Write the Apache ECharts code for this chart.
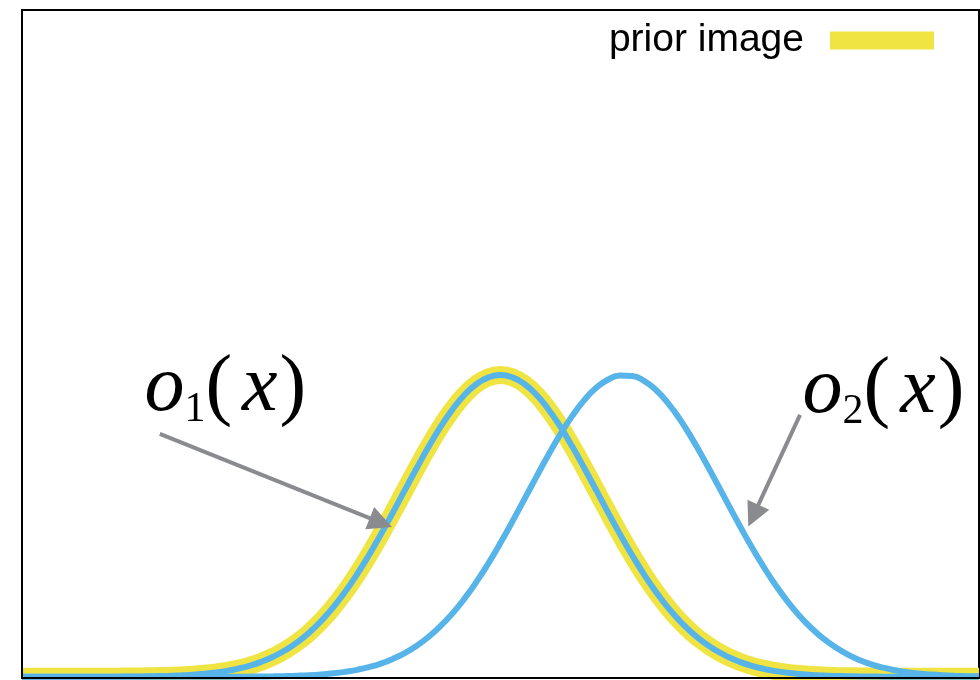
<!DOCTYPE html>
<html>
<head>
<meta charset="utf-8">
<title>prior image</title>
<script src="https://cdn.jsdelivr.net/npm/echarts@6/dist/echarts.min.js"></script>
<style>
  html, body { margin: 0; padding: 0; background: #fff; }
  #chart { width: 980px; height: 680px; }
</style>
</head>
<body>
<div id="chart"></div>
<script>
// Sample positions along the horizontal axis (step 0.125)
const xValues = Array.from({ length: 81 }, (_, i) => i * 0.125);

// o1(x): left bump, one value per sample position
const o1Values = [
  0, 0, 0, 0, 0, 0.0001, 0.0002, 0.0003, 0.0005, 0.0007, 0.0012, 0.0018, 0.0028, 0.0042, 0.0062, 0.0092,
  0.0132, 0.0188, 0.0264, 0.0365, 0.0496, 0.0665, 0.0878, 0.1142, 0.1463, 0.1846, 0.2295, 0.2811, 0.3391, 0.4031, 0.4720, 0.5443,
  0.6184, 0.6921, 0.7632, 0.8288, 0.8868, 0.9347, 0.9704, 0.9925, 1.0000,
  0.9925, 0.9704, 0.9347, 0.8868, 0.8288, 0.7632, 0.6921, 0.6184,
  0.5443, 0.4720, 0.4031, 0.3391, 0.2811, 0.2295, 0.1846, 0.1463, 0.1142, 0.0878, 0.0665, 0.0496, 0.0365, 0.0264, 0.0188, 0.0132,
  0.0092, 0.0062, 0.0042, 0.0028, 0.0018, 0.0012, 0.0007, 0.0005, 0.0003, 0.0002, 0.0001, 0, 0, 0, 0, 0
];

// o2(x): right bump, one value per sample position
const o2Values = [
  0, 0, 0, 0, 0, 0, 0, 0, 0, 0, 0, 0, 0, 0, 0, 0,
  0.0001, 0.0002, 0.0004, 0.0006, 0.0010, 0.0015, 0.0023, 0.0036, 0.0053, 0.0079, 0.0114, 0.0164, 0.0231, 0.0321, 0.0439, 0.0593,
  0.0787, 0.1030, 0.1327, 0.1685, 0.2107, 0.2597, 0.3152, 0.3769, 0.4439, 0.5151, 0.5887, 0.6628, 0.7352, 0.8033, 0.8647, 0.9169,
  0.9577, 0.9854, 0.9988, 0.9973, 0.9810, 0.9505, 0.9073, 0.8531, 0.7902, 0.7210, 0.6481, 0.5738, 0.5006, 0.4301, 0.3641, 0.3036,
  0.2494, 0.2018, 0.1608, 0.1263, 0.0977, 0.0744, 0.0559, 0.0413, 0.0301, 0.0216, 0.0153, 0.0106, 0.0073, 0.0049, 0.0033, 0.0021,
  0.0014
];

// The prior image follows o1(x)
const priorImage = o1Values;

const legendLabels = ['prior image'];

const YELLOW = '#F0E442';
const BLUE = '#56B4E9';
const GREY = '#898b8e';

const pairs = (ys) => xValues.map((x, i) => [x, ys[i]]);

// Math-style label: italic letters, upright subscript and parentheses
const mathRich = {
  i: { fontFamily: 'Liberation Serif', fontStyle: 'italic', fontSize: 80, lineHeight: 84, color: '#000' },
  n: { fontFamily: 'Liberation Serif', fontSize: 80, lineHeight: 84, color: '#000' },
  s: { fontFamily: 'Liberation Serif', fontSize: 42, lineHeight: 46, verticalAlign: 'bottom', color: '#000' },
  g2: { fontSize: 10, width: 10, lineHeight: 84 },
  g3: { fontSize: 10, width: 2, lineHeight: 84 }
};

const mathLabel = (sub) => ({
  show: true,
  position: [0, 0],
  align: 'left',
  verticalAlign: 'middle',
  formatter: '{i|o}{s|' + sub + '}{n|(}{g2| }{i|x}{g3| }{n|)}',
  rich: mathRich
});

const chart = echarts.init(document.getElementById('chart'), null, { renderer: 'canvas' });

chart.setOption({
  animation: false,
  backgroundColor: '#fff',
  grid: {
    left: 22, right: 1, top: 10, bottom: 2,
    show: true, borderColor: '#000', borderWidth: 2, backgroundColor: 'transparent'
  },
  legend: {
    data: legendLabels,
    right: 46,
    top: 21,
    padding: 0,
    icon: 'rect',
    align: 'right',
    itemWidth: 104,
    itemHeight: 18,
    selectedMode: false,
    textStyle: {
      fontFamily: 'Liberation Sans',
      fontSize: 39,
      color: '#000',
      padding: [6, 21, 0, 0]
    }
  },
  xAxis: {
    type: 'value', min: 0, max: 10, z: 10,
    axisLine: { show: true, onZero: false, lineStyle: { color: '#000', width: 2 } },
    axisTick: { show: false }, axisLabel: { show: false }, splitLine: { show: false }
  },
  yAxis: {
    type: 'value', min: -0.004, max: 2.21, z: 10,
    axisLine: { show: true, onZero: false, lineStyle: { color: '#000', width: 2 } },
    axisTick: { show: false }, axisLabel: { show: false }, splitLine: { show: false }
  },
  series: [
    {
      name: 'prior image',
      type: 'line',
      data: pairs(priorImage),
      smooth: true,
      showSymbol: false,
      color: YELLOW,
      itemStyle: { color: YELLOW },
      lineStyle: { color: YELLOW, width: 18 },
      silent: true,
      z: 2
    },
    {
      name: 'o1',
      type: 'line',
      data: pairs(o1Values),
      smooth: true,
      showSymbol: false,
      lineStyle: { color: BLUE, width: 6 },
      itemStyle: { color: BLUE },
      silent: true,
      z: 3,
      markPoint: {
        symbol: 'circle',
        symbolSize: 1,
        itemStyle: { color: 'rgba(0,0,0,0)' },
        silent: true,
        data: [{ coord: [1.285, 0.951], label: mathLabel('1') }]
      },
      markLine: {
        silent: true,
        symbol: ['none', 'triangle'],
        symbolSize: [24, 24],
        lineStyle: { color: GREY, width: 4, type: 'solid' },
        itemStyle: { color: GREY },
        label: { show: false },
        data: [[{ coord: [1.44, 0.805] }, { coord: [3.75, 0.511] }]]
      }
    },
    {
      name: 'o2',
      type: 'line',
      data: pairs(o2Values),
      smooth: true,
      showSymbol: false,
      lineStyle: { color: BLUE, width: 6 },
      itemStyle: { color: BLUE },
      silent: true,
      z: 4,
      markPoint: {
        symbol: 'circle',
        symbolSize: 1,
        itemStyle: { color: 'rgba(0,0,0,0)' },
        silent: true,
        data: [{ coord: [8.161, 0.947], label: mathLabel('2') }]
      },
      markLine: {
        silent: true,
        symbol: ['none', 'triangle'],
        symbolSize: [24, 24],
        lineStyle: { color: GREY, width: 4, type: 'solid' },
        itemStyle: { color: GREY },
        label: { show: false },
        data: [[{ coord: [8.13, 0.868] }, { coord: [7.642, 0.534] }]]
      }
    }
  ]
});
</script>
</body>
</html>
